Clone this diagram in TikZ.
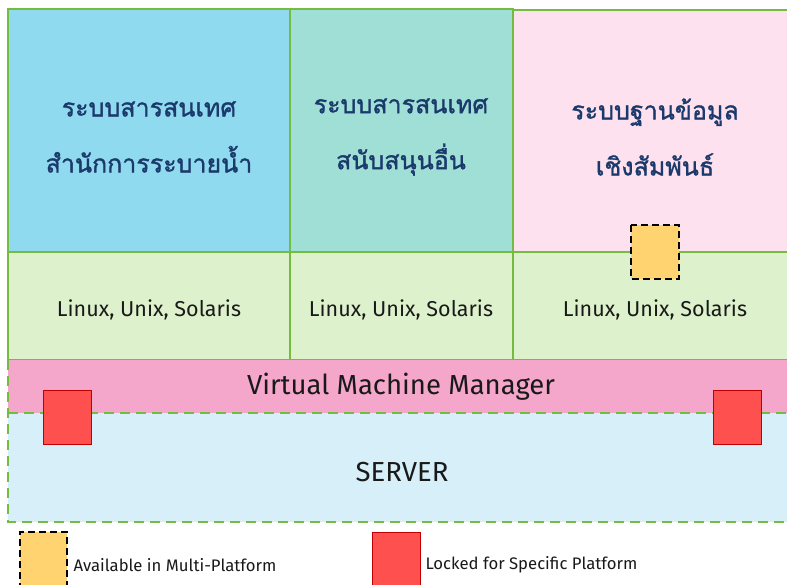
\documentclass[tikz,border=0pt]{standalone}
\usepackage{fontspec}
\setmainfont{Fira Sans}
\newfontfamily\thaifont[Script=Thai, FakeBold=1.3]{Loma}
\newfontfamily\latinfont{Fira Sans}
\definecolor{sysblue}{HTML}{8FDAEF}
\definecolor{systeal}{HTML}{A0DFD6}
\definecolor{syspink}{HTML}{FDE1EE}
\definecolor{osgreen}{HTML}{DDF2CC}
\definecolor{edgegreen}{HTML}{74BC3F}
\definecolor{vmmpink}{HTML}{F5A7CB}
\definecolor{serverblue}{HTML}{D6EFF8}
\definecolor{lockred}{HTML}{FF5050}
\definecolor{lockedge}{HTML}{C00000}
\definecolor{multiyellow}{HTML}{FFD470}
\definecolor{navytext}{HTML}{1B3A6B}
\tikzset{
  syscell/.style={draw=edgegreen, line width=1.2pt},
  systext/.style={font=\thaifont\fontsize{25}{56}\selectfont, text=navytext, align=center},
  ostext/.style={font=\latinfont\fontsize{21.5}{24}\selectfont, text=black!90},
  layertext/.style={font=\latinfont\fontsize{27.5}{30}\selectfont, text=black!90},
  legendtext/.style={font=\latinfont\fontsize{16.7}{19}\selectfont, text=black!90, anchor=west},
  lockbox/.style={fill=lockred, draw=lockedge, line width=1pt},
  multibox/.style={fill=multiyellow, draw=black, line width=1.2pt, dash pattern=on 7pt off 4pt},
  dashedge/.style={draw=edgegreen, line width=1.4pt, dash pattern=on 10pt off 6pt}
}
\begin{document}
\begin{tikzpicture}[x=1pt, y=-1pt]
\useasboundingbox (0,0) rectangle (787,584);
\clip (0,0) rectangle (787,584);
% system boxes
\fill[sysblue] (8,9) rectangle (290,252);
\fill[systeal] (290,9) rectangle (513,252);
\fill[syspink] (513,10) rectangle (800,252);
\draw[syscell] (8,252) -- (8,9) -- (290,9) -- (290,252);
\draw[syscell] (290,9) -- (513,9) -- (513,252);
\draw[syscell] (513,10) -- (800,10);
\node[systext] (sys1) at (149,137) {ระบบสารสนเทศ\\สำนักการระบายน้ำ};
\node[systext] (sys2) at (401,137) {ระบบสารสนเทศ\\สนับสนุนอื่น};
\node[systext] (sys3) at (655,137) {ระบบฐานข้อมูล\\เชิงสัมพันธ์};
% operating system row
\fill[osgreen] (8,252) rectangle (800,360);
\draw[syscell] (8,252) -- (800,252);
\draw[syscell] (8,360) -- (800,360);
\draw[syscell] (8,252) -- (8,360);
\draw[syscell] (290,252) -- (290,360);
\draw[syscell] (513,252) -- (513,360);
\node[ostext] (os1) at (149,310) {Linux, Unix, Solaris};
\node[ostext] (os2) at (401,310) {Linux, Unix, Solaris};
\node[ostext] (os3) at (655,310) {Linux, Unix, Solaris};
% virtual machine manager and server layers
\fill[vmmpink] (8,360) rectangle (800,413);
\fill[serverblue] (8,413) rectangle (800,522);
\draw[dashedge] (8,360) -- (8,522) -- (800,522);
\draw[dashedge] (8,413) -- (800,413);
\node[layertext] (vmm) at (401,387) {Virtual Machine Manager};
\node[layertext] (server) at (402,472) {SERVER};
% platform markers
\draw[lockbox] (43,390) rectangle (91,444);
\draw[lockbox] (713,390) rectangle (761,444);
\draw[multibox] (631,225) rectangle (679,279);
% legend
\fill[multiyellow] (20,532) rectangle (67,590);
\draw[multibox] (20,590) -- (20,532) -- (67,532) -- (67,590);
\node[legendtext] (multi) at (70,565) {Available in Multi-Platform};
\draw[lockbox] (372,532) rectangle (420,590);
\node[legendtext] (locked) at (422,565) {Locked for Specific Platform};
\end{tikzpicture}
\end{document}
